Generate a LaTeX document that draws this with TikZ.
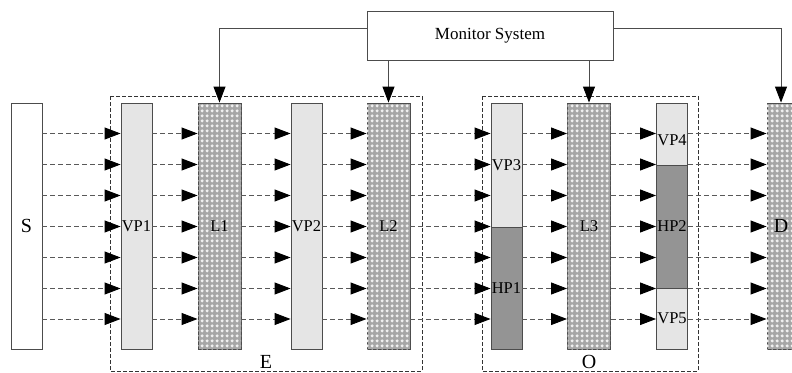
\documentclass[tikz,border=0pt]{standalone}
\usepackage{fontspec}
\setmainfont{Liberation Serif}
\usetikzlibrary{arrows.meta,patterns}
\pgfdeclarepatternformonly{diamgrid}{\pgfpointorigin}{\pgfpoint{5pt}{5pt}}{\pgfpoint{5pt}{5pt}}{%
  \pgfpathmoveto{\pgfpoint{2.5pt}{0.5pt}}%
  \pgfpathlineto{\pgfpoint{4.5pt}{2.5pt}}%
  \pgfpathlineto{\pgfpoint{2.5pt}{4.5pt}}%
  \pgfpathlineto{\pgfpoint{0.5pt}{2.5pt}}%
  \pgfpathclose\pgfusepath{fill}}
\begin{document}
\begin{tikzpicture}[x=1pt,y=-1pt,
  box/.style={draw=black!70, line width=0.9pt, inner sep=0pt, minimum width=31pt, text=black},
  light/.style={box, fill=black!10},
  dark/.style={box, fill=black!42},
  hatch/.style={box, minimum width=43pt, fill=black!35, postaction={pattern=diamgrid, pattern color=white!94!black}},
  lbl/.style={font=\fontsize{16.5}{18}\selectfont, text=black},
  big/.style={font=\fontsize{20}{22}\selectfont},
  flow/.style={draw=black!65, line width=0.9pt, dash pattern=on 5pt off 3pt, -{Triangle[length=16pt,width=12pt,black]}},
  ctrl/.style={draw=black!70, line width=0.9pt, -{Triangle[length=16pt,width=12pt,black]}},
  group/.style={draw=black!80, line width=0.7pt, dash pattern=on 4pt off 2pt}
]
\clip (0,0) rectangle (792,372);
\fill[white] (0,0) rectangle (792,372);

% groups
\draw[group] (110,96) rectangle (422,371);
\draw[group] (482,96) rectangle (698,371);
\node[big] (E) at (266,362) {E};
\node[big] (O) at (589,362) {O};

% columns
\node[box, fill=white, minimum height=246pt, big] (S) at (26.5,226) {S};
\node[light, minimum height=246pt, lbl] (VP1) at (136.5,226) {VP1};
\node[hatch, minimum height=246pt, lbl] (L1) at (219.5,226) {L1};
\node[light, minimum height=246pt, lbl] (VP2) at (306.5,226) {VP2};
\node[hatch, minimum height=246pt, lbl] (L2) at (388.5,226) {L2};
\node[light, minimum height=124pt, lbl] (VP3) at (506.5,165) {VP3};
\node[dark, minimum height=122pt, lbl] (HP1) at (506.5,288) {HP1};
\node[hatch, minimum height=246pt, lbl] (L3) at (589,226) {L3};
\node[light, minimum height=62pt] (VP4) at (672,134) {};
\node[lbl] (VP4t) at (672,140) {VP4};
\node[dark, minimum height=123pt, lbl] (HP2) at (672,226.5) {HP2};
\node[light, minimum height=61pt, lbl] (VP5) at (672,318.5) {VP5};
\node[hatch, minimum width=28pt, minimum height=246pt, big] (D) at (781,226) {D};

% monitor
\node[box, fill=white, minimum width=246pt, minimum height=49pt, font=\fontsize{17}{19}\selectfont] (M) at (490,35.5) {Monitor System};
\draw[ctrl] (M.west |- 0,28) -| (L1.north);
\draw[ctrl] (M.south -| L2.north) -- (L2.north);
\draw[ctrl] (M.south -| L3.north) -- (L3.north);
\draw[ctrl] (M.east |- 0,28) -| (D.north);

% flows
\foreach \y in {133.5,164.5,195.5,226.5,257.5,288.5,319} {
  \draw[flow] (S.east |- 0,\y) -- (VP1.west |- 0,\y);
  \draw[flow] (VP1.east |- 0,\y) -- (L1.west |- 0,\y);
  \draw[flow] (L1.east |- 0,\y) -- (VP2.west |- 0,\y);
  \draw[flow] (VP2.east |- 0,\y) -- (L2.west |- 0,\y);
  \draw[flow] (L2.east |- 0,\y) -- (VP3.west |- 0,\y);
  \draw[flow] (VP3.east |- 0,\y) -- (L3.west |- 0,\y);
  \draw[flow] (L3.east |- 0,\y) -- (VP4.west |- 0,\y);
  \draw[flow] (VP4.east |- 0,\y) -- (D.west |- 0,\y);
}
\end{tikzpicture}
\end{document}
